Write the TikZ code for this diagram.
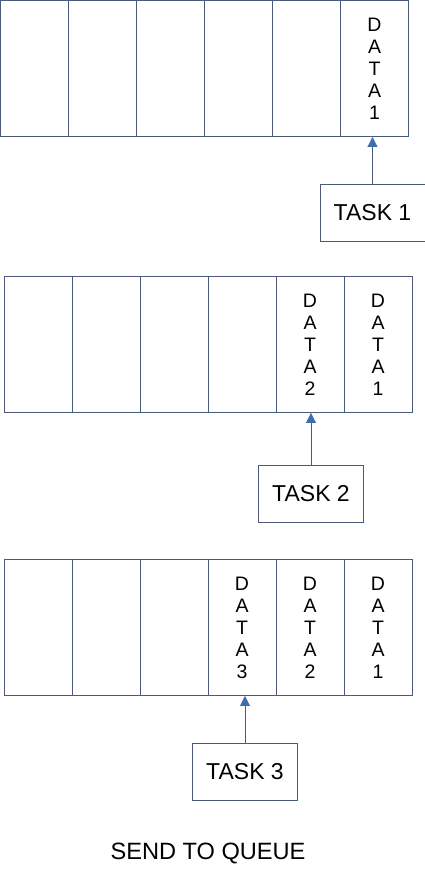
\documentclass[tikz,border=0pt]{standalone}
\usepackage{fontspec}
\setmainfont{Liberation Sans}
\usetikzlibrary{arrows.meta,positioning}
\definecolor{edge}{HTML}{4A5A7A}
\definecolor{tip}{HTML}{3F6DB3}

\begin{document}
\begin{tikzpicture}[x=1pt, y=-1pt, every node/.style={font=\fontsize{19.5}{22}\selectfont}]
  \tikzset{cell/.style={draw=edge, line width=0.9pt, minimum width=68pt, minimum height=136pt,
                        inner sep=0pt, align=center},
           task/.style={draw=edge, line width=0.9pt, minimum width=105pt, minimum height=57pt,
                        font=\fontsize{23}{27}\selectfont},
           push/.style={-{Triangle[length=10pt, width=10pt, color=tip]}, draw=edge, line width=0.9pt}}
  \useasboundingbox (0,0) rectangle (425,888);
  \foreach \i/\txt in {1/,2/,3/,4/,5/,6/{D\\A\\T\\A\\1}}
    \node[cell] (a\i) at ({0.5+68*(\i-0.5)},68.5) {\txt};
  \foreach \i/\txt in {1/,2/,3/,4/,5/{D\\A\\T\\A\\2},6/{D\\A\\T\\A\\1}}
    \node[cell] (b\i) at ({4+68*(\i-0.5)},344.5) {\txt};
  \foreach \i/\txt in {1/,2/,3/,4/{D\\A\\T\\A\\3},5/{D\\A\\T\\A\\2},6/{D\\A\\T\\A\\1}}
    \node[cell] (c\i) at ({4+68*(\i-0.5)},627.5) {\txt};
  \node[task] (t1) at (372.5,212.5) {TASK 1};
  \node[task] (t2) at (311,493.5) {TASK 2};
  \node[task] (t3) at (245,771.5) {TASK 3};
  \draw[push] (t1) -- (t1 |- a6.south);
  \draw[push] (t2) -- (t2 |- b5.south);
  \draw[push] (t3) -- (t3 |- c4.south);
  \node[font=\fontsize{23.6}{28}\selectfont] (title) at (208,853) {SEND TO QUEUE};
\end{tikzpicture}
\end{document}
